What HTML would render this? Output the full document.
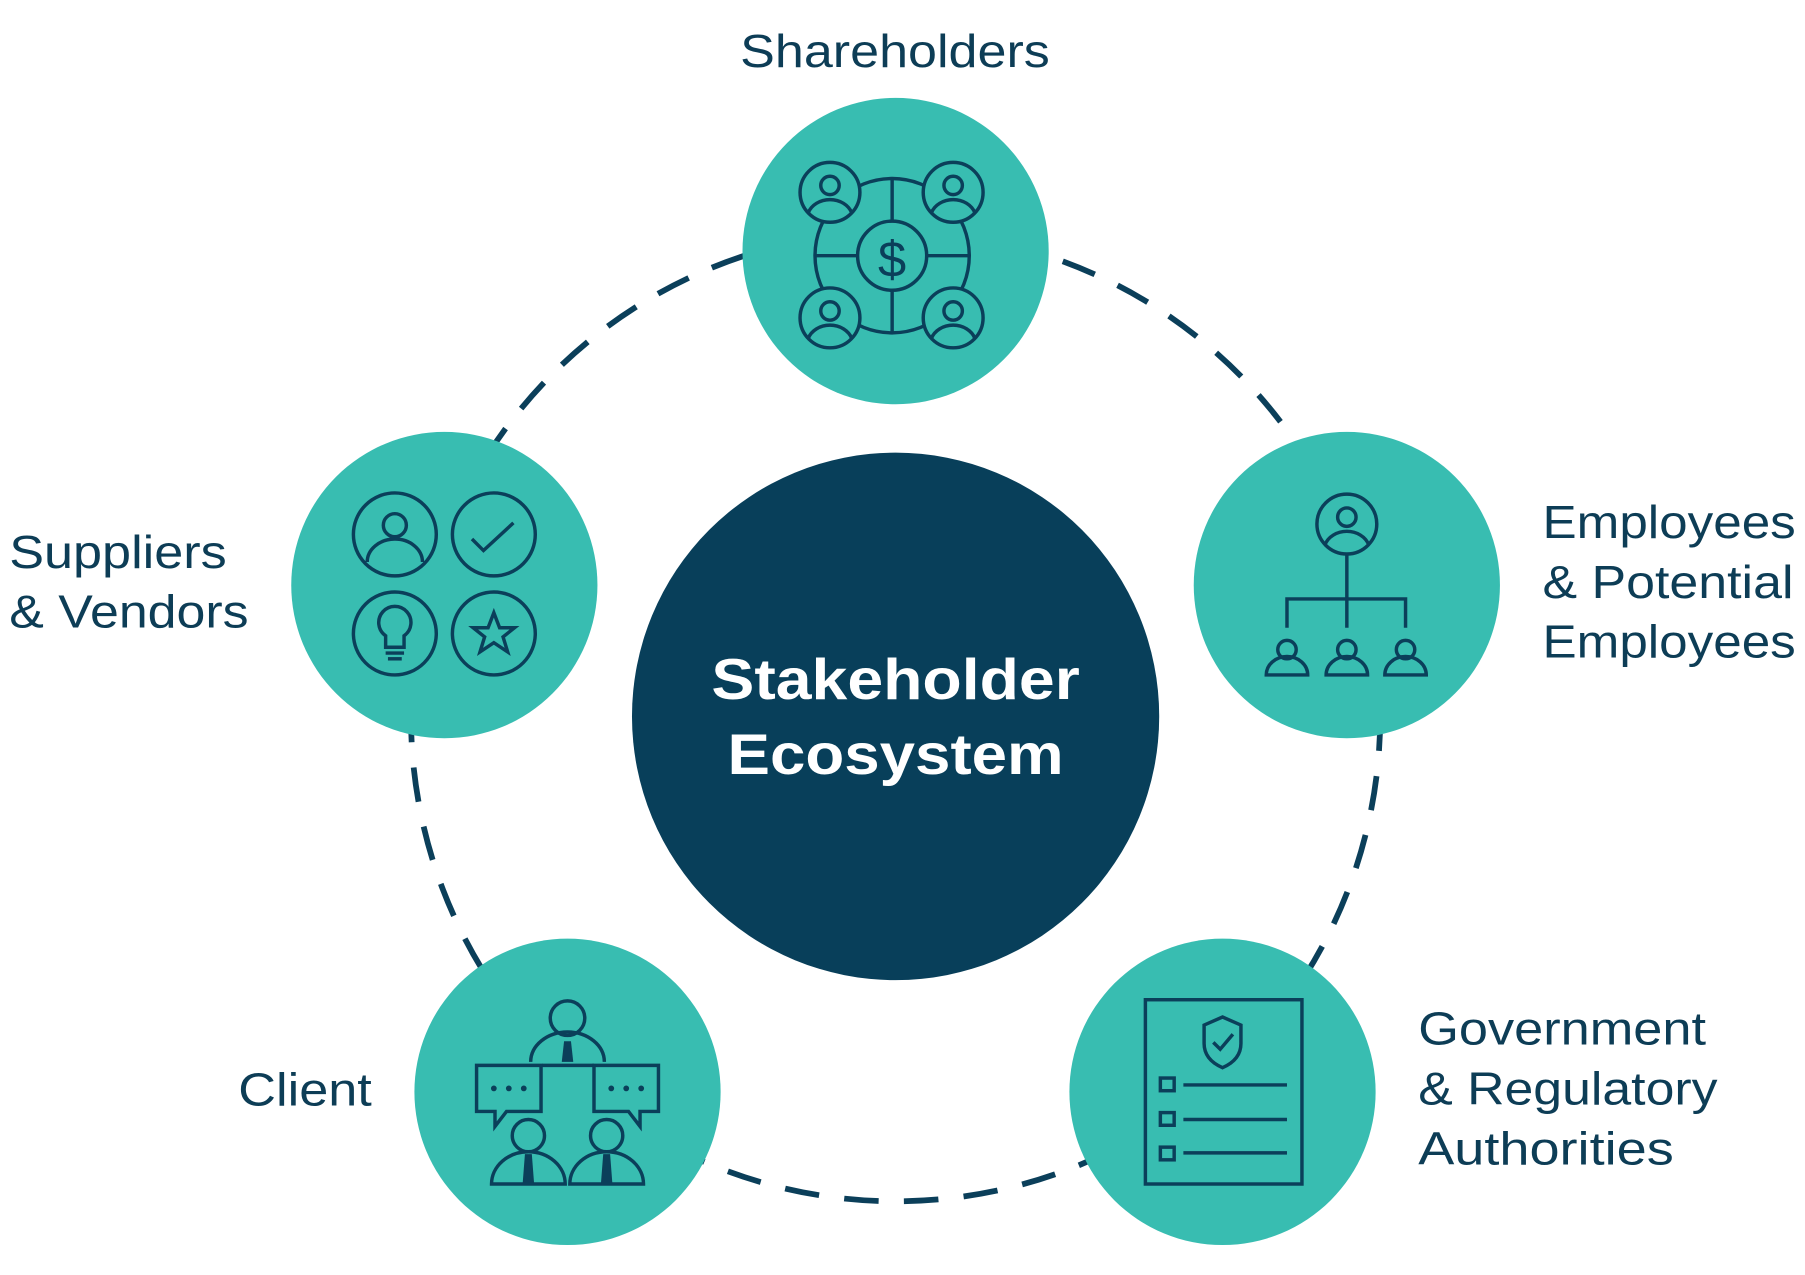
<!DOCTYPE html>
<html><head><meta charset="utf-8"><style>
html,body{margin:0;padding:0;background:#fff}
svg{display:block}
text{font-family:"Liberation Sans",sans-serif;fill:#0d3d56}
</style></head><body>
<svg width="1805" height="1275" viewBox="0 0 1568 1107" preserveAspectRatio="none">
<defs>
<symbol id="p" viewBox="-26 -26 52 52" overflow="visible">
<circle r="26" fill="#38bdb1" stroke="#0b3f5a" stroke-width="3"/>
<circle cx="0" cy="-6" r="8" fill="none" stroke="#0b3f5a" stroke-width="3"/>
<path d="M-19,18 A20,17 0 0 1 19,18" fill="none" stroke="#0b3f5a" stroke-width="3"/>
</symbol>
</defs>
<circle cx="778" cy="622" r="421" fill="none" stroke="#0b3f5a" stroke-width="5" stroke-dasharray="30 22"/>
<circle cx="778" cy="622" r="229" fill="#083f5a"/>
<text x="618" y="607" textLength="320" lengthAdjust="spacingAndGlyphs" font-size="50" font-weight="bold" style="fill:#fff">Stakeholder</text>
<text x="632" y="672" textLength="292" lengthAdjust="spacingAndGlyphs" font-size="50" font-weight="bold" style="fill:#fff">Ecosystem</text>
<g fill="#38bdb1">
<circle cx="778" cy="218" r="133"/>
<circle cx="1170" cy="508" r="133"/>
<circle cx="1062" cy="948" r="133"/>
<circle cx="493" cy="948" r="133"/>
<circle cx="386" cy="508" r="133"/>
</g>
<g fill="none" stroke="#0b3f5a" stroke-width="3">
<circle cx="775" cy="222" r="67"/>
<circle cx="775" cy="222" r="30"/>
<line x1="775" y1="155" x2="775" y2="192"/><line x1="775" y1="252" x2="775" y2="289"/>
<line x1="708" y1="222" x2="745" y2="222"/><line x1="805" y1="222" x2="842" y2="222"/>
<circle cx="343" cy="464" r="36"/><circle cx="429" cy="464" r="36"/>
<circle cx="343" cy="550" r="36"/><circle cx="429" cy="550" r="36"/>
<circle cx="343" cy="456" r="10"/><path d="M319,488 A24,20 0 0 1 367,488"/>
<path d="M410,468 L420,478 L446,454"/>
<path d="M335,562 L335,552 A14,14 0 1 1 351,552 L351,562 Z"/><line x1="335" y1="567" x2="351" y2="567"/><line x1="337" y1="572" x2="349" y2="572"/>
<path d="M429,532 L434,545 L447,545 L437,553 L441,566 L429,558 L417,566 L421,553 L411,545 L424,545 Z"/>
<line x1="1170" y1="481" x2="1170" y2="545"/>
<path d="M1118,545 V520 H1221 V545"/>
<circle cx="1118" cy="564" r="8"/><path d="M1100,586 A18,16 0 0 1 1136,586 Z"/>
<circle cx="1170" cy="564" r="8"/><path d="M1152,586 A18,16 0 0 1 1188,586 Z"/>
<circle cx="1221" cy="564" r="8"/><path d="M1203,586 A18,16 0 0 1 1239,586 Z"/>
<rect x="995" y="868" width="136" height="160"/>
<path d="M1062,883 L1078,890 L1078,906 Q1078,920 1062,927 Q1046,920 1046,906 L1046,890 Z"/>
<path d="M1054,905 L1060,911 L1071,898"/>
<rect x="1008" y="936" width="12" height="11"/><line x1="1028" y1="942" x2="1118" y2="942"/>
<rect x="1008" y="966" width="12" height="11"/><line x1="1028" y1="972" x2="1118" y2="972"/>
<rect x="1008" y="996" width="12" height="11"/><line x1="1028" y1="1001" x2="1118" y2="1001"/>
<circle cx="493" cy="884" r="15"/>
<path d="M461,922 A32,26 0 0 1 525,922"/>
<line x1="471" y1="925" x2="516" y2="925"/>
<path d="M414,925 H470 V965 H440 L430,978 L430,965 H414 Z"/>
<path d="M516,925 H572 V965 H556 L556,978 L546,965 H516 Z"/>
<circle cx="459" cy="986" r="14"/><path d="M427,1028 A32,28 0 0 1 491,1028 Z"/>
<circle cx="527" cy="986" r="14"/><path d="M495,1028 A32,28 0 0 1 559,1028 Z"/>
</g>
<g fill="#0b3f5a">
<path d="M490,904 h6 l2,18 h-10 z"/><path d="M456,1002 h6 l2,26 h-10 z"/><path d="M524,1002 h6 l2,26 h-10 z"/>
<circle cx="429" cy="945" r="2.5"/><circle cx="442" cy="945" r="2.5"/><circle cx="455" cy="945" r="2.5"/>
<circle cx="531" cy="945" r="2.5"/><circle cx="544" cy="945" r="2.5"/><circle cx="557" cy="945" r="2.5"/>
</g>
<text x="775" y="240" text-anchor="middle" font-size="44" style="fill:#0b3f5a">$</text>
<use href="#p" x="695" y="141" width="52" height="52"/>
<use href="#p" x="802" y="141" width="52" height="52"/>
<use href="#p" x="695" y="250" width="52" height="52"/>
<use href="#p" x="802" y="250" width="52" height="52"/>
<use href="#p" x="1144" y="429" width="52" height="52"/>
<text x="643" y="58" textLength="269" lengthAdjust="spacingAndGlyphs" font-size="40">Shareholders</text>
<text x="8" y="493" textLength="189" lengthAdjust="spacingAndGlyphs" font-size="40">Suppliers</text>
<text x="8" y="545" textLength="208" lengthAdjust="spacingAndGlyphs" font-size="40">&amp; Vendors</text>
<text x="1340" y="467" textLength="220" lengthAdjust="spacingAndGlyphs" font-size="40">Employees</text>
<text x="1340" y="519" textLength="218" lengthAdjust="spacingAndGlyphs" font-size="40">&amp; Potential</text>
<text x="1340" y="571" textLength="220" lengthAdjust="spacingAndGlyphs" font-size="40">Employees</text>
<text x="1232" y="907" textLength="250" lengthAdjust="spacingAndGlyphs" font-size="40">Government</text>
<text x="1232" y="959" textLength="260" lengthAdjust="spacingAndGlyphs" font-size="40">&amp; Regulatory</text>
<text x="1232" y="1011" textLength="222" lengthAdjust="spacingAndGlyphs" font-size="40">Authorities</text>
<text x="207" y="960" textLength="116" lengthAdjust="spacingAndGlyphs" font-size="40">Client</text>
</svg>
</body></html>
